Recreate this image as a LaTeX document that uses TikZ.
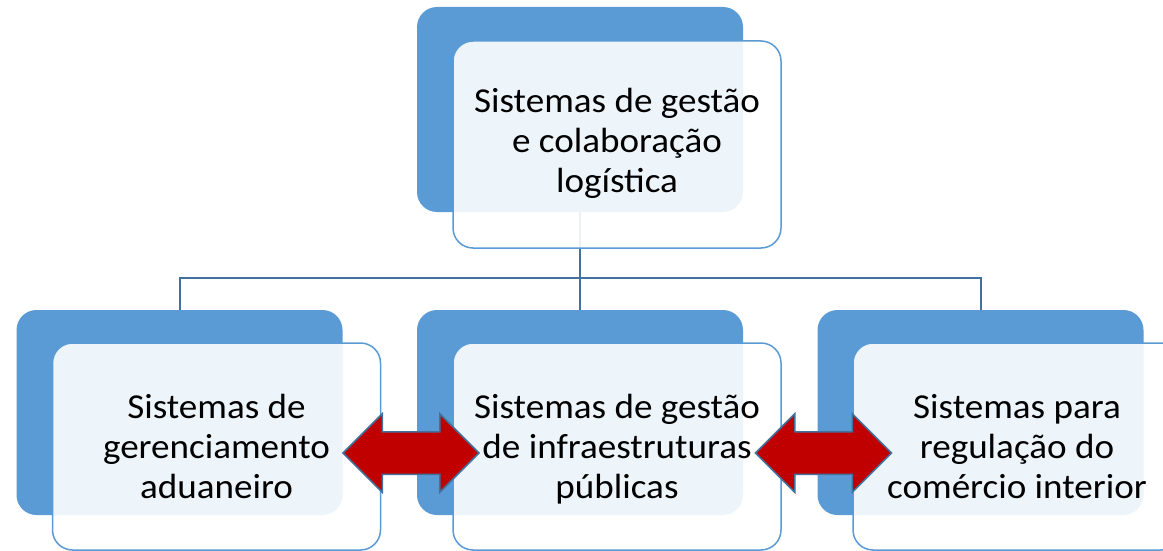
\documentclass[tikz,border=0pt]{standalone}
\usepackage{fontspec}
\setmainfont{Carlito}[FakeStretch=1.06]
\usetikzlibrary{shapes.arrows}
\definecolor{accent}{HTML}{5B9BD5}
\definecolor{linec}{HTML}{41719C}
\definecolor{arrowred}{HTML}{C00000}
\newcommand\boxlift{\rule{0pt}{33pt}}
\begin{document}
\begin{tikzpicture}[x=1pt,y=-1pt,
 backbox/.style={fill=accent, rounded corners=20pt, minimum width=326pt, minimum height=205pt, inner sep=0pt},
 frontbox/.style={draw=accent, line width=1.5pt, fill=white, fill opacity=0.9, text opacity=1, rounded corners=20pt, minimum width=328pt, minimum height=207pt, align=center, font=\fontsize{35}{40}\selectfont, inner sep=0pt, execute at end node={\rule[-9pt]{0pt}{9pt}}},
 link/.style={draw=linec, line width=2pt},
 dbl/.style={double arrow, fill=arrowred, draw=linec, line width=1.5pt, inner xsep=0pt, inner ysep=20.5pt, minimum height=136pt, double arrow head extend=18pt, double arrow tip angle=90}]
\useasboundingbox (0,0) rectangle (1163,551);
\clip (0,0) rectangle (1163,551);
% back boxes
\node[backbox] (topback) at (580,109.5) {};
\node[backbox] (lback) at (179.5,412.5) {};
\node[backbox] (mback) at (580,412.5) {};
\node[backbox] (rback) at (980.5,412.5) {};
% connectors
\coordinate (bus) at (580,278);
\draw[link] (topback.south) -- (bus) -| (lback.north);
\draw[link] (bus) -| (rback.north);
\draw[link] (bus) -- (mback.north);
% front boxes
\node[frontbox] (topfront) at (617,144.5) {Sistemas de gestão\\e colaboração\\logística};
\node[frontbox] (lfront) at (216.5,446.5) {\boxlift Sistemas de\\gerenciamento\\aduaneiro};
\node[frontbox] (mfront) at (617,446.5) {\boxlift Sistemas de gestão\\de infraestruturas\\públicas};
\node[frontbox] (rfront) at (1017,446.5) {\boxlift Sistemas para\\regulação do\\comércio interior};
% double arrows
\node[dbl] (arrowl) at (411,453) {};
\node[dbl] (arrowr) at (823.5,453) {};
\end{tikzpicture}
\end{document}
